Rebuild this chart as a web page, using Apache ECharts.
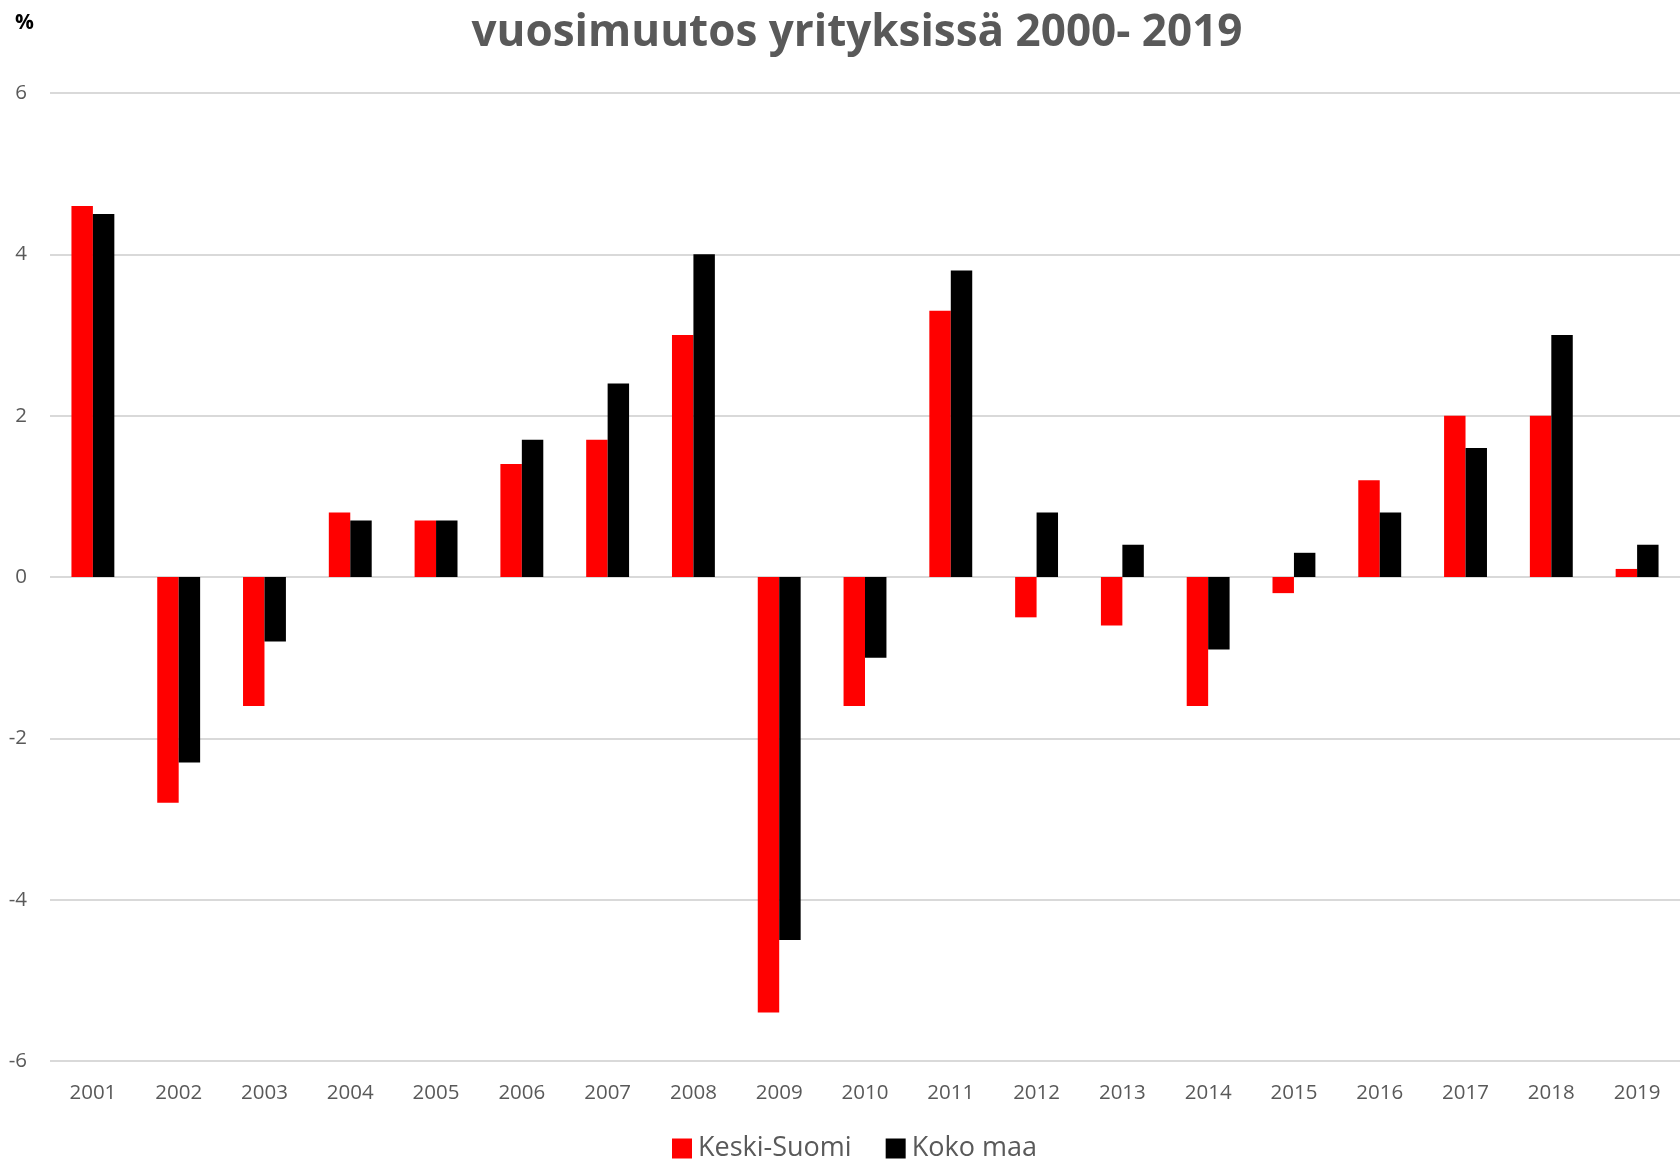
<!DOCTYPE html>
<html><head><meta charset="utf-8">
<script src="https://cdn.jsdelivr.net/npm/echarts@6/dist/echarts.min.js"></script>
<style>html,body{margin:0;padding:0;background:#fff}#c{width:1680px;height:1161px}</style>
</head><body><div id="c"></div>
<script>
const years = ['2001','2002','2003','2004','2005','2006','2007','2008','2009','2010','2011','2012','2013','2014','2015','2016','2017','2018','2019'];
const keskiSuomi = [4.6,-2.8,-1.6,0.8,0.7,1.4,1.7,3.0,-5.4,-1.6,3.3,-0.5,-0.6,-1.6,-0.2,1.2,2.0,2.0,0.1];
const kokoMaa = [4.5,-2.3,-0.8,0.7,0.7,1.7,2.4,4.0,-4.5,-1.0,3.8,0.8,0.4,-0.9,0.3,0.8,1.6,3.0,0.4];
const seriesNames = ['Keski-Suomi','Koko maa'];
const chart = echarts.init(document.getElementById('c'));
chart.setOption({
  animation:false,
  backgroundColor:'#fff',
  title:[{text:'vuosimuutos yrityksissä 2000- 2019',left:852,textAlign:'center',top:6,
    textStyle:{fontFamily:'Open Sans',fontWeight:'bold',fontSize:44,color:'#595959'}},
    {text:'%',left:10,top:8,textStyle:{fontFamily:'Open Sans',fontWeight:'bold',fontSize:21,color:'#000'}}],
  legend:{bottom:-6,left:667,itemWidth:20,itemHeight:20,itemGap:34,icon:'rect',
    textStyle:{fontFamily:'Open Sans',fontSize:27,color:'#595959',padding:[0,0,0,1]},
    data:seriesNames},
  grid:{left:50,right:0,top:93,bottom:100,containLabel:false},
  xAxis:{type:'category',data:years,axisLine:{show:false},axisTick:{show:false},
    axisLabel:{fontFamily:'Open Sans',fontSize:20.5,color:'#595959',margin:22}},
  yAxis:{type:'value',min:-6,max:6,interval:2,axisLine:{show:false},axisTick:{show:false},
    splitLine:{lineStyle:{color:'#d9d9d9',width:2}},
    axisLabel:{fontFamily:'Open Sans',fontSize:20.5,color:'#595959',margin:23}},
  series:[
    {name:seriesNames[0],type:'bar',data:keskiSuomi,itemStyle:{color:'#ff0000'},barGap:'0%',barCategoryGap:'50%'},
    {name:seriesNames[1],type:'bar',data:kokoMaa,itemStyle:{color:'#000000'},barGap:'0%',barCategoryGap:'50%'}
  ]
});
</script></body></html>
